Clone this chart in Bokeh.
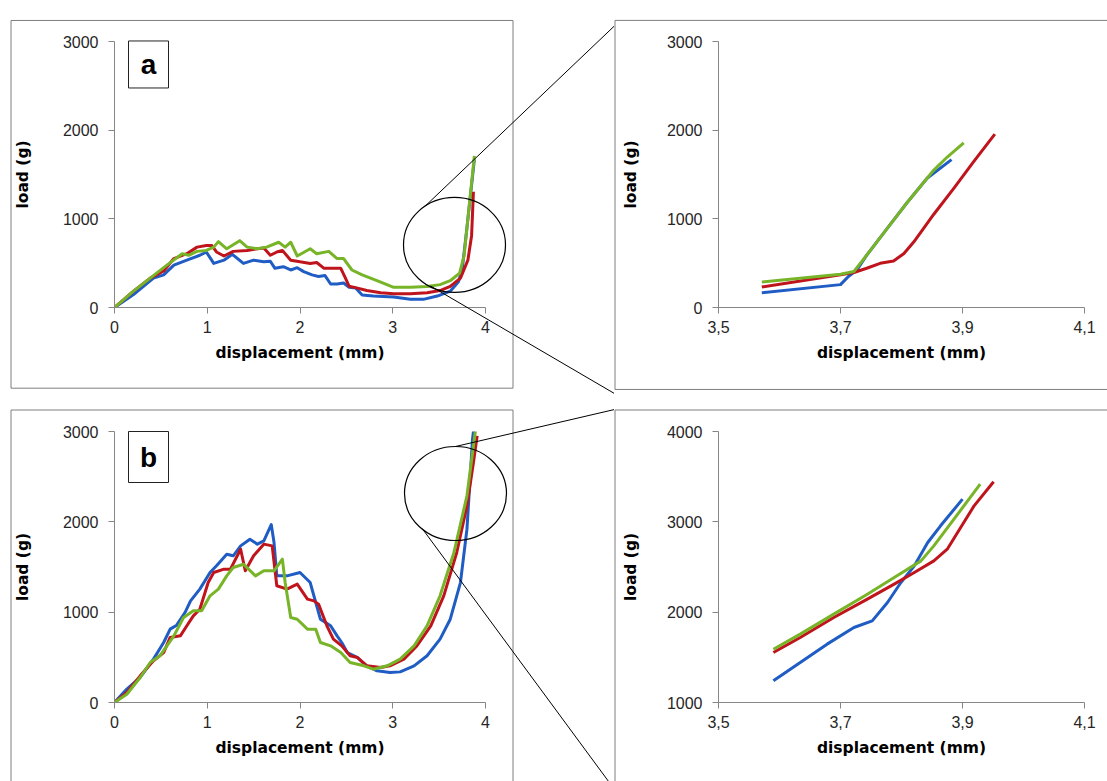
from bokeh.plotting import figure
from bokeh.layouts import column, row
from bokeh.models import Range1d, FixedTicker
from bokeh.embed import file_html
from bokeh.resources import INLINE
from bokeh.core.properties import value

# ---------------- data ----------------
# panel a (full curves)
a_blue_x = [0, 0.205, 0.42, 0.53, 0.64, 0.78, 0.92, 0.99, 1.07, 1.18, 1.27, 1.39, 1.50, 1.61, 1.68, 1.73, 1.82,
            1.90, 1.97, 2.04, 2.13, 2.20, 2.27, 2.33, 2.40, 2.47, 2.53, 2.60, 2.67, 2.79, 3.01, 3.19, 3.33, 3.48,
            3.62, 3.71, 3.75, 3.80, 3.88]
a_blue_y = [0, 147, 331, 368, 478, 534, 589, 626, 497, 534, 600, 497, 534, 515, 522, 442, 460,
            423, 449, 405, 368, 350, 360, 265, 265, 276, 228, 221, 140, 129, 118, 92, 92, 129,
            184, 294, 442, 900, 1670]
a_red_x = [0, 0.205, 0.385, 0.53, 0.64, 0.78, 0.89, 0.99, 1.05, 1.10, 1.18, 1.28, 1.43, 1.54, 1.61, 1.68, 1.75,
           1.81, 1.90, 2.00, 2.11, 2.18, 2.26, 2.36, 2.44, 2.49, 2.53, 2.61, 2.72, 2.87, 3.01, 3.19, 3.37, 3.51,
           3.62, 3.73, 3.81, 3.85, 3.87]
a_red_y = [0, 184, 331, 412, 552, 607, 681, 699, 699, 626, 581, 633, 644, 662, 670, 589, 626,
           644, 534, 515, 497, 508, 442, 442, 442, 331, 239, 221, 191, 166, 155, 155, 166, 191,
           239, 331, 534, 810, 1306]
a_green_x = [0, 0.205, 0.385, 0.565, 0.73, 0.80, 0.89, 0.99, 1.07, 1.12, 1.21, 1.35, 1.43, 1.54, 1.64, 1.77, 1.84,
             1.90, 1.97, 2.11, 2.18, 2.31, 2.40, 2.47, 2.56, 2.67, 2.83, 3.01, 3.19, 3.37, 3.51, 3.62, 3.72, 3.77,
             3.82, 3.88]
a_green_y = [0, 184, 331, 478, 607, 589, 633, 644, 681, 743, 662, 754, 681, 662, 681, 736, 681,
             736, 581, 662, 607, 633, 552, 552, 423, 368, 302, 228, 228, 236, 258, 302, 386, 589,
             1104, 1711]

# panel b (full curves)
b_blue_x = [0, 0.133, 0.277, 0.42, 0.53, 0.60, 0.67, 0.76, 0.82, 0.92, 1.03, 1.10, 1.21, 1.28, 1.36, 1.46, 1.54,
            1.61, 1.69, 1.72, 1.75, 1.86, 2.00, 2.11, 2.17, 2.22, 2.33, 2.40, 2.45, 2.51, 2.62, 2.72, 2.83, 2.97,
            3.08, 3.23, 3.37, 3.51, 3.62, 3.73, 3.80, 3.86, 3.90]
b_blue_y = [0, 148, 277, 480, 664, 812, 856, 996, 1125, 1255, 1439, 1513, 1642, 1624, 1734, 1808, 1753,
            1790, 1970, 1771, 1402, 1402, 1439, 1328, 1107, 922, 849, 738, 664, 553, 498, 406, 351, 332,
            339, 406, 517, 701, 922, 1328, 1919, 2915, 3250]
b_red_x = [0, 0.133, 0.277, 0.42, 0.53, 0.60, 0.71, 0.78, 0.85, 0.92, 1.01, 1.07, 1.18, 1.25, 1.36, 1.41, 1.50,
           1.61, 1.70, 1.75, 1.86, 1.97, 2.08, 2.15, 2.20, 2.29, 2.36, 2.45, 2.54, 2.62, 2.72, 2.87, 2.97, 3.12,
           3.26, 3.41, 3.55, 3.69, 3.80, 3.87, 3.91]
b_red_y = [0, 111, 295, 461, 553, 720, 738, 849, 959, 1033, 1328, 1439, 1476, 1476, 1697, 1458, 1624,
           1753, 1734, 1292, 1255, 1310, 1144, 1125, 1089, 849, 701, 627, 517, 498, 406, 387, 406, 480,
           627, 849, 1181, 1661, 2177, 2657, 2952]
b_green_x = [0, 0.133, 0.277, 0.385, 0.49, 0.565, 0.64, 0.745, 0.85, 0.94, 1.03, 1.12, 1.21, 1.28, 1.39, 1.52,
             1.61, 1.72, 1.81, 1.84, 1.90, 1.97, 2.08, 2.17, 2.22, 2.33, 2.44, 2.54, 2.69, 2.79, 2.94, 3.08, 3.23,
             3.37, 3.51, 3.66, 3.80, 3.89, 3.90]
b_green_y = [0, 92, 277, 443, 517, 627, 738, 941, 1015, 1015, 1181, 1255, 1402, 1494, 1531, 1402,
             1458, 1458, 1587, 1328, 941, 922, 812, 812, 664, 627, 553, 443, 406, 369, 406, 480, 627,
             849, 1181, 1661, 2288, 3000, 3100]

# zoomed panel for a
za_blue_x = [3.571, 3.70, 3.713, 3.727, 3.743, 3.776, 3.809, 3.842, 3.882]
za_blue_y = [166, 258, 350, 424, 590, 886, 1181, 1458, 1668]
za_red_x = [3.571, 3.70, 3.722, 3.743, 3.765, 3.787, 3.804, 3.82, 3.853, 3.886, 3.918, 3.953]
za_red_y = [232, 369, 395, 443, 498, 524, 609, 738, 1052, 1347, 1642, 1956]
za_green_x = [3.571, 3.70, 3.722, 3.743, 3.776, 3.809, 3.853, 3.875, 3.902]
za_green_y = [288, 376, 406, 590, 886, 1181, 1550, 1697, 1856]

# zoomed panel for b
zb_blue_x = [3.590, 3.634, 3.678, 3.722, 3.752, 3.777, 3.799, 3.821, 3.843, 3.864, 3.900]
zb_blue_y = [1240, 1443, 1646, 1830, 1904, 2107, 2328, 2513, 2771, 2956, 3251]
zb_red_x = [3.590, 3.634, 3.689, 3.744, 3.788, 3.821, 3.853, 3.875, 3.897, 3.919, 3.951]
zb_red_y = [1554, 1720, 1941, 2144, 2310, 2439, 2568, 2697, 2937, 3177, 3443]
zb_green_x = [3.590, 3.634, 3.689, 3.744, 3.788, 3.832, 3.853, 3.886, 3.929]
zb_green_y = [1590, 1757, 1978, 2199, 2384, 2568, 2734, 3030, 3417]

full_xticks = [0, 1, 2, 3, 4]
full_xtick_labels = ["0", "1", "2", "3", "4"]
full_yticks = [0, 1000, 2000, 3000]
zoom_xticks = [3.5, 3.7, 3.9, 4.1]
zoom_xtick_labels = ["3,5", "3,7", "3,9", "4,1"]
za_yticks = [0, 1000, 2000, 3000]
zb_yticks = [1000, 2000, 3000, 4000]
panel_letters = ["a", "b"]
x_title = "displacement (mm)"
y_title = "load (g)"

BLUE = "#1f5cc4"
RED = "#c0141c"
GREEN = "#78b428"
AXIS = "#868686"
BOXC = "#7f7f7f"
TICK_FONT = "Liberation Sans"
TITLE_FONT = "DejaVu Sans"


def make_panel(W, H, L, R, T, B, xr, yr, xticks, xlabels, yticks, ylab_standoff):
    p = figure(width=W, height=H, output_backend="svg", toolbar_location=None,
               x_range=Range1d(*xr), y_range=Range1d(*yr),
               min_border_left=L, min_border_right=W - R, min_border_top=T, min_border_bottom=H - B)
    p.grid.visible = False
    p.outline_line_color = None
    p.background_fill_color = "white"
    p.border_fill_color = "white"
    for ax in (p.xaxis[0], p.yaxis[0]):
        ax.axis_line_color = AXIS
        ax.major_tick_line_color = AXIS
        ax.minor_tick_line_color = None
        ax.major_tick_out = 6
        ax.major_tick_in = 0
        ax.major_label_text_font = TICK_FONT
        ax.major_label_text_font_size = "16px"
        ax.major_label_text_color = "#262626"
        ax.axis_label_text_font = TITLE_FONT
        ax.axis_label_text_font_style = "bold"
        ax.axis_label_text_font_size = "15.5px"
        ax.axis_label_text_color = "#000000"
    p.xaxis.ticker = FixedTicker(ticks=xticks)
    p.xaxis.major_label_overrides = {t: s for t, s in zip(xticks, xlabels)}
    p.yaxis.ticker = FixedTicker(ticks=yticks)
    p.xaxis.axis_label = x_title
    p.yaxis.axis_label = y_title
    p.xaxis.major_label_standoff = 7
    p.xaxis.axis_label_standoff = 8
    p.yaxis.major_label_standoff = 10
    p.yaxis.axis_label_standoff = ylab_standoff
    geom = (L, R, T, B, xr[0], xr[1], yr[0], yr[1])
    return p, geom


def to_data(geom, px, py):
    L, R, T, B, x0, x1, y0, y1 = geom
    return x0 + (px - L) / (R - L) * (x1 - x0), y1 - (py - T) / (B - T) * (y1 - y0)


def deco_line(p, geom, pts, color="black", width=1):
    xs, ys = zip(*[to_data(geom, a, b) for a, b in pts])
    p.line(list(xs), list(ys), line_color=color, line_width=width, level="overlay")


def deco_ellipse(p, geom, cx, cy, w, h):
    x, y = to_data(geom, cx, cy)
    p.ellipse(x=[x], y=[y], width=w, height=h, width_units="screen", height_units="screen",
              fill_color=None, line_color="black", line_width=1.2, level="overlay")


def deco_letter(p, geom, cx, cy, w, h, letter):
    x, y = to_data(geom, cx, cy)
    p.rect(x=[x], y=[y], width=w, height=h, width_units="screen", height_units="screen",
           fill_color="white", line_color="#222222", line_width=1, level="overlay")
    p.text(x=[x], y=[y], text=[letter], text_align="center", text_baseline="middle",
           text_font=value("Liberation Sans"), text_font_style="bold", text_font_size="28px",
           text_color="black", level="overlay")


def curves(p, data):
    for xs, ys, c in data:
        p.line(xs, ys, line_color=c, line_width=3, line_join="round")


# ---- top left (a) ----
pa, ga = make_panel(614, 400, 114, 485, 35, 307, (0, 4), (0, 3000), full_xticks, full_xtick_labels, full_yticks, 28)
curves(pa, [(a_blue_x, a_blue_y, BLUE), (a_red_x, a_red_y, RED), (a_green_x, a_green_y, GREEN)])
deco_line(pa, ga, [(10.5, 13.5), (512.5, 13.5), (512.5, 389.5), (10.5, 389.5), (10.5, 13.5)], BOXC)
deco_ellipse(pa, ga, 454, 243, 102, 95)
deco_line(pa, ga, [(425, 203), (614, 19)])
deco_line(pa, ga, [(430, 285), (614, 395)])
deco_letter(pa, ga, 148, 58.5, 40, 47, panel_letters[0])

# ---- top right (zoom a) ----
pza, gza = make_panel(493, 400, 104, 470, 41, 312, (3.5, 4.1), (0, 3000), zoom_xticks, zoom_xtick_labels, za_yticks, 24)
curves(pza, [(za_blue_x, za_blue_y, BLUE), (za_red_x, za_red_y, RED), (za_green_x, za_green_y, GREEN)])
deco_line(pza, gza, [(520, 19.5), (0.5, 19.5), (0.5, 395.5), (520, 395.5)], BOXC)

# ---- bottom left (b) ----
pb, gb = make_panel(614, 381, 114, 485, 31, 302, (0, 4), (0, 3000), full_xticks, full_xtick_labels, full_yticks, 28)
curves(pb, [(b_blue_x, b_blue_y, BLUE), (b_red_x, b_red_y, RED), (b_green_x, b_green_y, GREEN)])
deco_line(pb, gb, [(10.5, 400), (10.5, 9.5), (512.5, 9.5), (512.5, 400)], BOXC)
deco_ellipse(pb, gb, 455, 93, 102, 94)
deco_line(pb, gb, [(455, 46), (614, 9)])
deco_line(pb, gb, [(421.7, 128), (614, 389)])
deco_letter(pb, gb, 148, 56.5, 40, 51, panel_letters[1])

# ---- bottom right (zoom b) ----
pzb, gzb = make_panel(493, 381, 104, 470, 31, 302, (3.5, 4.1), (1000, 4000), zoom_xticks, zoom_xtick_labels, zb_yticks, 24)
curves(pzb, [(zb_blue_x, zb_blue_y, BLUE), (zb_red_x, zb_red_y, RED), (zb_green_x, zb_green_y, GREEN)])
deco_line(pzb, gzb, [(520, 9.5), (0.5, 9.5), (0.5, 400)], BOXC)

layout = column(row(pa, pza, spacing=0), row(pb, pzb, spacing=0), spacing=0)

with open("out.html", "w") as f:
    f.write(file_html(layout, INLINE))
